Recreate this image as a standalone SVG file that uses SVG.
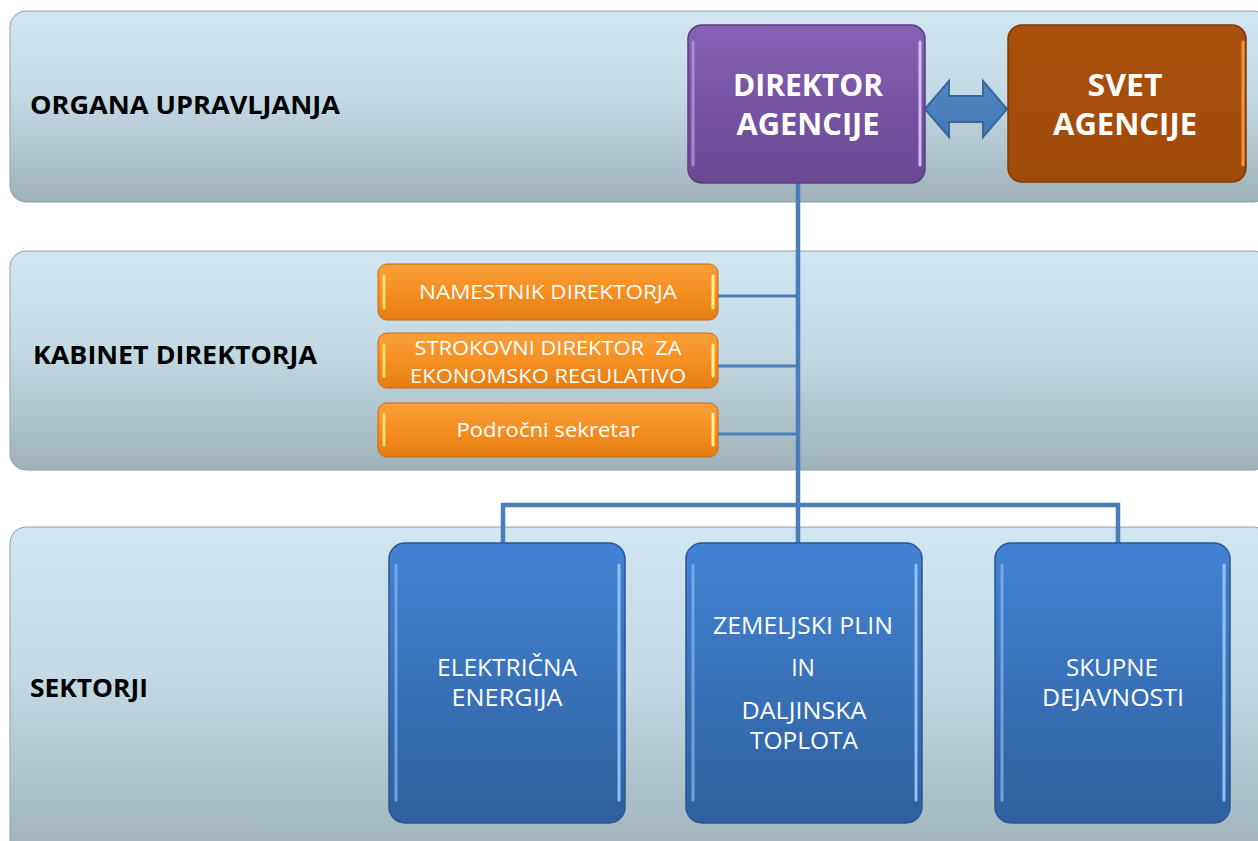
<svg xmlns="http://www.w3.org/2000/svg" width="1258" height="841" viewBox="0 0 1258 841">
<defs>
<linearGradient id="gBand" x1="0" y1="0" x2="0" y2="1">
<stop offset="0" stop-color="#d0e6f1"/><stop offset="0.45" stop-color="#c3d9e3"/><stop offset="1" stop-color="#9fb2ba"/>
</linearGradient>
<linearGradient id="gDir" x1="0" y1="0" x2="0" y2="1">
<stop offset="0" stop-color="#8661b4"/><stop offset="1" stop-color="#684891"/>
</linearGradient>
<linearGradient id="gSvet" x1="0" y1="0" x2="0" y2="1">
<stop offset="0" stop-color="#aa500c"/><stop offset="1" stop-color="#a04a0a"/>
</linearGradient>
<linearGradient id="gOr" x1="0" y1="0" x2="0" y2="1">
<stop offset="0" stop-color="#f9a03a"/><stop offset="0.5" stop-color="#f58f22"/><stop offset="1" stop-color="#e57d14"/>
</linearGradient>
<linearGradient id="gBlue" x1="0" y1="0" x2="0" y2="1">
<stop offset="0" stop-color="#4283d4"/><stop offset="1" stop-color="#2f5f9e"/>
</linearGradient>
<linearGradient id="gArr" x1="0" y1="0" x2="0" y2="1">
<stop offset="0" stop-color="#5087c4"/><stop offset="1" stop-color="#4478b4"/>
</linearGradient>
</defs>
<style>
.band{fill:url(#gBand);stroke:#8c9ea6;stroke-width:1}
.lbl{font-family:"Open Sans","Liberation Sans",sans-serif;font-weight:bold;fill:#000;font-size:25px}
.big{font-family:"Open Sans","Liberation Sans",sans-serif;font-weight:bold;fill:#fff;font-size:31px;text-anchor:middle}
.or{fill:url(#gOr);stroke:#c96a10;stroke-width:1}
.ot{font-family:"Open Sans","Liberation Sans",sans-serif;fill:#fff;font-size:20px;text-anchor:middle}
.bl{fill:url(#gBlue);stroke:#2a5590;stroke-width:1.5}
.bt{font-family:"Open Sans","Liberation Sans",sans-serif;fill:#fff;font-size:23px;text-anchor:middle}
.hl{fill:none;stroke-width:3;stroke-linecap:round}
.conn{fill:none;stroke:#4a7ebb;stroke-width:4.5}
.thin{fill:none;stroke:#4a7ebb;stroke-width:3}
</style>

<g id="bands">
<rect class="band" x="10" y="11" width="1260" height="191" rx="16"/>
<rect class="band" x="10" y="251" width="1260" height="219" rx="16"/>
<rect class="band" x="10" y="527" width="1260" height="330" rx="16"/>
</g>

<g id="band-labels">
<text class="lbl" x="30" y="114" textLength="310" lengthAdjust="spacingAndGlyphs">ORGANA UPRAVLJANJA</text>
<text class="lbl" x="33" y="364" textLength="284" lengthAdjust="spacingAndGlyphs">KABINET DIREKTORJA</text>
<text class="lbl" x="30" y="697" textLength="118" lengthAdjust="spacingAndGlyphs">SEKTORJI</text>
</g>

<g id="connectors">
<line class="conn" x1="798" y1="183" x2="798" y2="543"/>
<line class="thin" x1="718" y1="296" x2="798" y2="296"/>
<line class="thin" x1="718" y1="366" x2="798" y2="366"/>
<line class="thin" x1="718" y1="434" x2="798" y2="434"/>
<polyline class="conn" points="503,543 503,505 1118,505 1118,543"/>
<path id="double-arrow" d="M925,109 L949,81 L949,96 L983,96 L983,81 L1007,109 L983,137 L983,122 L949,122 L949,137 Z" fill="url(#gArr)" stroke="#3a6797" stroke-width="2" stroke-linejoin="miter"/>
</g>

<g id="direktor">
<rect x="688" y="25" width="237" height="158" rx="14" fill="url(#gDir)" stroke="#5b3e80" stroke-width="1.5"/>
<line class="hl" x1="693" y1="42" x2="693" y2="165" stroke="#b597dd" opacity="0.8"/>
<line class="hl" x1="920" y1="42" x2="920" y2="165" stroke="#e0c8ff" opacity="0.9"/>
<text class="big" x="808" y="96" textLength="150" lengthAdjust="spacingAndGlyphs">DIREKTOR</text>
<text class="big" x="808" y="135" textLength="143" lengthAdjust="spacingAndGlyphs">AGENCIJE</text>
</g>

<g id="svet">
<rect x="1008" y="25" width="238" height="157" rx="14" fill="url(#gSvet)" stroke="#7e3a06" stroke-width="1.5"/>
<line class="hl" x1="1243" y1="42" x2="1243" y2="165" stroke="#f0a050" opacity="0.9"/>
<text class="big" x="1125" y="96" textLength="75" lengthAdjust="spacingAndGlyphs">SVET</text>
<text class="big" x="1125" y="135" textLength="144" lengthAdjust="spacingAndGlyphs">AGENCIJE</text>
</g>

<g id="namestnik">
<rect class="or" x="378" y="264" width="340" height="56" rx="9"/>
<line class="hl" x1="384" y1="276" x2="384" y2="308" stroke="#ffd870"/>
<line class="hl" x1="713" y1="276" x2="713" y2="308" stroke="#fff090"/>
<text class="ot" x="548" y="299" textLength="258" lengthAdjust="spacingAndGlyphs">NAMESTNIK DIREKTORJA</text>
</g>

<g id="strokovni">
<rect class="or" x="378" y="333" width="340" height="55" rx="9"/>
<line class="hl" x1="384" y1="345" x2="384" y2="376" stroke="#ffd870"/>
<line class="hl" x1="713" y1="345" x2="713" y2="376" stroke="#fff090"/>
<text class="ot" x="548" y="355" xml:space="preserve" textLength="267" lengthAdjust="spacingAndGlyphs">STROKOVNI DIREKTOR  ZA</text>
<text class="ot" x="548" y="383" textLength="276" lengthAdjust="spacingAndGlyphs">EKONOMSKO REGULATIVO</text>
</g>

<g id="sekretar">
<rect class="or" x="378" y="403" width="340" height="54" rx="9"/>
<line class="hl" x1="384" y1="414" x2="384" y2="445" stroke="#ffd870"/>
<line class="hl" x1="713" y1="414" x2="713" y2="445" stroke="#fff090"/>
<text class="ot" x="548" y="437" textLength="183" lengthAdjust="spacingAndGlyphs">Področni sekretar</text>
</g>

<g id="elektricna">
<rect class="bl" x="389" y="543" width="236" height="280" rx="16"/>
<line class="hl" x1="396" y1="565" x2="396" y2="800" stroke="#7fb0ee" opacity="0.8"/>
<line class="hl" x1="619" y1="565" x2="619" y2="800" stroke="#9ccaff" opacity="0.9"/>
<text class="bt" x="507" y="676" textLength="140" lengthAdjust="spacingAndGlyphs">ELEKTRIČNA</text>
<text class="bt" x="507" y="706" textLength="111" lengthAdjust="spacingAndGlyphs">ENERGIJA</text>
</g>

<g id="plin">
<rect class="bl" x="686" y="543" width="236" height="280" rx="16"/>
<line class="hl" x1="693" y1="565" x2="693" y2="800" stroke="#7fb0ee" opacity="0.8"/>
<line class="hl" x1="916" y1="565" x2="916" y2="800" stroke="#9ccaff" opacity="0.9"/>
<text class="bt" x="803" y="634" textLength="180" lengthAdjust="spacingAndGlyphs">ZEMELJSKI PLIN</text>
<text class="bt" x="803" y="676">IN</text>
<text class="bt" x="804" y="719" textLength="125" lengthAdjust="spacingAndGlyphs">DALJINSKA</text>
<text class="bt" x="804" y="749" textLength="108" lengthAdjust="spacingAndGlyphs">TOPLOTA</text>
</g>

<g id="skupne">
<rect class="bl" x="995" y="543" width="235" height="280" rx="16"/>
<line class="hl" x1="1002" y1="565" x2="1002" y2="800" stroke="#7fb0ee" opacity="0.8"/>
<line class="hl" x1="1224" y1="565" x2="1224" y2="800" stroke="#9ccaff" opacity="0.9"/>
<text class="bt" x="1112" y="676" textLength="92" lengthAdjust="spacingAndGlyphs">SKUPNE</text>
<text class="bt" x="1113" y="706" textLength="142" lengthAdjust="spacingAndGlyphs">DEJAVNOSTI</text>
</g>
</svg>
